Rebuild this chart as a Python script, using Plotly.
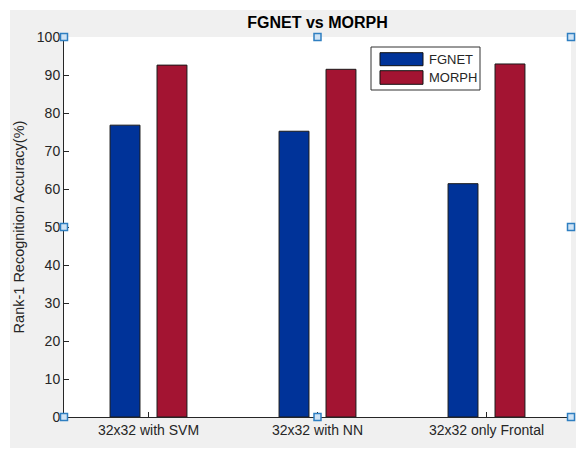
import plotly.graph_objects as go

categories = ["32x32 with SVM", "32x32 with NN", "32x32 only Frontal"]
fgnet = [76.8, 75.2, 61.4]
morph = [92.6, 91.5, 92.9]
series_names = ["FGNET", "MORPH"]
series_colors = ["#003399", "#a31432"]
y_ticks = list(range(0, 101, 10))

AX = "#262626"
FONT = "Liberation Sans, Arial, sans-serif"

fig = go.Figure()
for name, vals, col in zip(series_names, [fgnet, morph], series_colors):
    fig.add_trace(go.Bar(x=categories, y=vals, name=name, showlegend=False,
                         marker=dict(color=col, line=dict(color="#1a1a1a", width=1))))

W, H = 576, 450
L, R, T, B = 64, 5, 37, 33
PW, PH = W - L - R, H - T - B

def px_x(p):
    return (p - L) / PW

def px_y(p):
    return (H - B - p) / PH

shapes = []
annotations = []
# white outer strips (window background outside the grey figure)
for (x0, x1, y0, y1) in [(0, 10, 0, H), (0, W, 0, 10), (0, W, 448, H)]:
    shapes.append(dict(type="rect", xref="paper", yref="paper", x0=px_x(x0), x1=px_x(x1),
                       y0=px_y(y1), y1=px_y(y0), fillcolor="white", line=dict(width=0)))

# manual legend (MATLAB style with wide swatches)
shapes.append(dict(type="rect", xref="paper", yref="paper", x0=px_x(371), x1=px_x(480),
                   y0=px_y(90), y1=px_y(47), fillcolor="white", line=dict(color="#333333", width=1)))
sw_rows = [(52.7, 65.7), (70.7, 84.3)]
for (ya, yb), name, col in zip(sw_rows, series_names, series_colors):
    shapes.append(dict(type="rect", xref="paper", yref="paper", x0=px_x(380), x1=px_x(423),
                       y0=px_y(yb), y1=px_y(ya), fillcolor=col, line=dict(color="#111111", width=1)))
    annotations.append(dict(text=name, xref="paper", yref="paper", x=px_x(427), y=px_y((ya + yb) / 2),
                            xanchor="left", yanchor="middle", showarrow=False,
                            font=dict(family=FONT, size=13, color=AX)))

# selection handles
for hx in (0, 0.5, 1):
    for hy in (0, 0.5, 1):
        if hx == 0.5 and hy == 0.5:
            continue
        shapes.append(dict(type="rect", xref="paper", yref="paper",
                           x0=hx - 3.5 / PW, x1=hx + 3.5 / PW,
                           y0=hy - 3.5 / PH, y1=hy + 3.5 / PH,
                           fillcolor="#cfe3f5", line=dict(color="#2f7fc1", width=1.5)))

fig.update_layout(
    width=W, height=H,
    margin=dict(l=L, r=R, t=T, b=B, pad=0),
    paper_bgcolor="#f0f0f0",
    plot_bgcolor="white",
    barmode="group",
    bargap=0.444,
    bargroupgap=0.363,
    showlegend=False,
    font=dict(family=FONT, size=14, color=AX),
    title=dict(text="<b>FGNET vs MORPH</b>", xref="paper", x=0.5, xanchor="center",
               y=1 - 22 / H, yanchor="middle",
               font=dict(family=FONT, size=16, color="black")),
    xaxis=dict(range=[-0.5, 2.5], showline=True, linecolor=AX, linewidth=1,
               ticks="inside", ticklen=5, tickcolor=AX, showgrid=False,
               tickfont=dict(size=14, color=AX), zeroline=False, automargin=False),
    yaxis=dict(range=[0, 100], tickvals=y_ticks, showline=True, linecolor=AX, linewidth=1,
               ticks="inside", ticklen=5, tickcolor=AX, showgrid=False, zeroline=False,
               tickfont=dict(size=14, color=AX), automargin=False,
               title=dict(text="Rank-1 Recognition Accuracy(%)", standoff=8,
                          font=dict(size=14.5, color=AX))),
    shapes=shapes,
    annotations=annotations,
)

fig.write_html("out.html", config={"displayModeBar": False},
               post_script="document.body.style.margin='0';document.body.style.padding='0';")
